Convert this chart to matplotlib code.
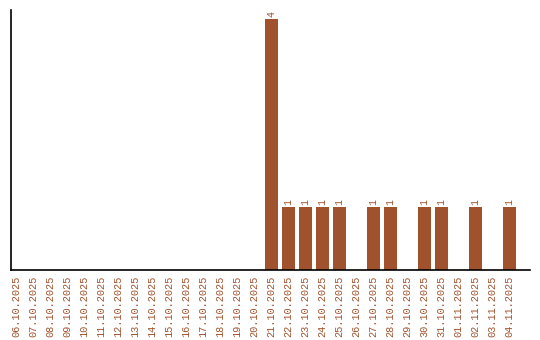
import matplotlib
matplotlib.use("Agg")
import matplotlib.pyplot as plt
import pandas as pd

# daily counts, 06.10.2025 - 04.11.2025
dates = pd.date_range("2025-10-06", "2025-11-04", freq="D")
date_labels = [d.strftime("%d.%m.%Y") for d in dates]
counts = [0, 0, 0, 0, 0, 0, 0, 0, 0, 0, 0, 0, 0, 0, 0,
          4, 1, 1, 1, 1, 0, 1, 1, 0, 1, 1, 0, 1, 0, 1]

bar_color = "#A0522D"
font = "Liberation Mono"

fig = plt.figure(figsize=(5.4, 3.4), dpi=100)
ax = fig.add_axes([11 / 540, 1 - 270 / 340, 519 / 540, 260 / 340])

x = list(range(len(counts)))
ax.bar(x, counts, width=0.78, color=bar_color)

for xi, v in zip(x, counts):
    if v > 0:
        ax.text(xi, v + 0.04, str(v), rotation=90, ha="center", va="bottom",
                fontsize=7, family=font, color=bar_color)

ax.set_xlim(-0.32, 30.2)
ax.set_ylim(0, 4.15)
ax.set_xticks(x)
ax.set_xticklabels(date_labels, rotation=90, fontsize=7.4, family=font, color=bar_color)
ax.tick_params(axis="x", length=0, pad=4)
ax.set_yticks([])

for side in ["top", "right"]:
    ax.spines[side].set_visible(False)
for side in ["left", "bottom"]:
    ax.spines[side].set_color("black")
    ax.spines[side].set_linewidth(1.2)

fig.savefig("out.png", dpi=100)
